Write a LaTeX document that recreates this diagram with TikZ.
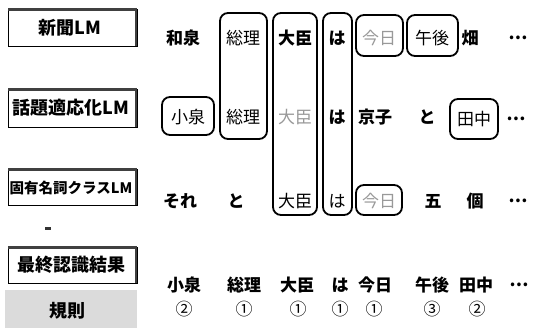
\documentclass[tikz,border=0pt]{standalone}
\usepackage{fontspec}
\newfontfamily\jp{Noto Sans CJK JP}
\begin{document}
\begin{tikzpicture}[x=1pt,y=-1pt,
  lab/.style={font=\jp\bfseries\fontsize{18}{18}\selectfont, inner sep=0pt},
  labs/.style={font=\jp\bfseries\fontsize{14.5}{14.5}\selectfont, inner sep=0pt},
  w/.style={font=\jp\bfseries\fontsize{17}{17}\selectfont, inner sep=0pt},
  wl/.style={font=\jp\fontsize{17}{17}\selectfont, inner sep=0pt},
  g/.style={font=\jp\fontsize{17}{17}\selectfont, inner sep=0pt, text=black!40},
  rb/.style={draw, line width=1.8pt, rounded corners=8pt},
  lbox/.style={draw, line width=0.7pt},
  shade/.style={line width=2.4pt, black!75}]
\useasboundingbox (0,0) rectangle (534,328);

% left label boxes
\foreach \t/\b in {9/46, 89/127, 169/205, 247/283}{
  \draw[lbox] (8,\t) rectangle (137,\b);
  \draw[shade] (8,\t+0.6) -- (137,\t+0.6);
  \draw[shade] (136,\t) -- (136,\b);
}
\node[lab]  (l1) at (70,28)  {新聞LM};
\node[lab]  (l2) at (71,108) {話題適応化LM};
\node[labs] (l3) at (71,188) {固有名詞クラスLM};
\node[lab]  (l4) at (71,265) {最終認識結果};
\fill[black!80] (45,227) rectangle (51,229.5);
\fill[black!14] (5,290) rectangle (137,328);
\node[lab]  (l5) at (67,311) {規則};

% rounded boxes
\draw[rb] (220,13) rectangle (267,139);
\draw[rb] (273,13) rectangle (317,215);
\draw[rb] (323,13) rectangle (352,215);
\draw[rb] (356,15) rectangle (403,56);
\draw[rb] (407,15) rectangle (458,56);
\draw[rb] (162,97) rectangle (214,135);
\draw[rb] (450,99) rectangle (498,139);
\draw[rb] (356,185) rectangle (402,215);

% row 1
\node[w] (a1) at (183,38) {和泉};
\node[wl] (a2) at (243,38) {総理};
\node[w] (a3) at (295,38) {大臣};
\node[w] (a4) at (337,38) {は};
\node[g] (a5) at (379,38) {今日};
\node[wl] (a6) at (432,38) {午後};
\node[w] (a7) at (470,38) {畑};
\node[w] (a8) at (518,38) {…};
% row 2
\node[wl] (b1) at (188,117) {小泉};
\node[wl] (b2) at (243,117) {総理};
\node[g] (b3) at (295,117) {大臣};
\node[w] (b4) at (337,117) {は};
\node[w] (b5) at (375,117) {京子};
\node[w] (b6) at (427,117) {と};
\node[wl] (b7) at (474,119) {田中};
\node[w] (b8) at (516,119) {…};
% row 3
\node[w] (c1) at (180,201) {それ};
\node[w] (c2) at (236,201) {と};
\node[wl] (c3) at (295,201) {大臣};
\node[wl] (c4) at (337,201) {は};
\node[g] (c5) at (379,201) {今日};
\node[w] (c6) at (433,201) {五};
\node[w] (c7) at (475,201) {個};
\node[w] (c8) at (518,201) {…};
% row 4
\node[w] (d1) at (184,285) {小泉};
\node[w] (d2) at (244,285) {総理};
\node[w] (d3) at (297,285) {大臣};
\node[w] (d4) at (340,285) {は};
\node[w] (d5) at (375,285) {今日};
\node[w] (d6) at (432,285) {午後};
\node[w] (d7) at (476,285) {田中};
\node[w] (d8) at (519,285) {…};
% row 5
\node[wl] (e1) at (184,309) {②};
\node[wl] (e2) at (244,309) {①};
\node[wl] (e3) at (298,309) {①};
\node[wl] (e4) at (340,309) {①};
\node[wl] (e5) at (374,309) {①};
\node[wl] (e6) at (432,309) {③};
\node[wl] (e7) at (477,309) {②};
\end{tikzpicture}
\end{document}
